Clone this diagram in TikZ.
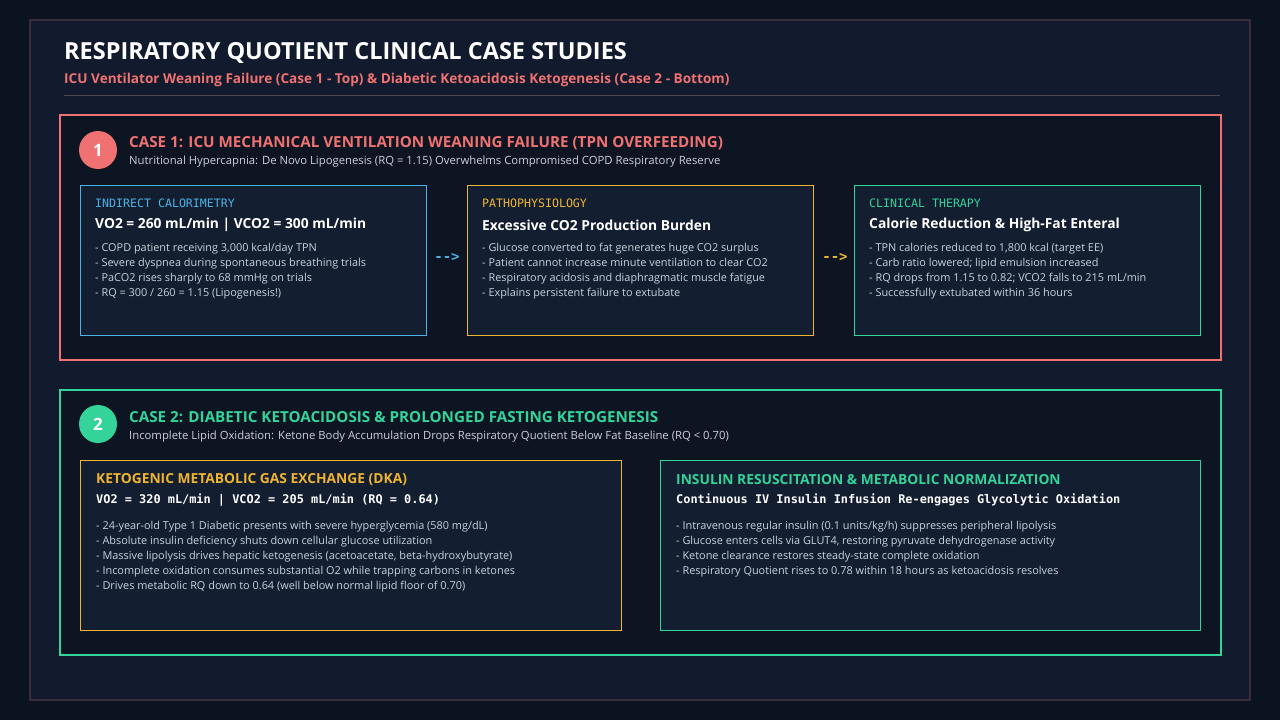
\documentclass[tikz,border=0pt]{standalone}
\usepackage{fontspec}
\setmainfont{Open Sans}
\setmonofont{DejaVu Sans Mono}
\usetikzlibrary{positioning}
\definecolor{pagebg}{HTML}{0C1320}
\definecolor{framebg}{HTML}{111B2D}
\definecolor{casebg}{HTML}{0D1522}
\definecolor{cardbg}{HTML}{131E31}
\definecolor{framebd}{HTML}{3A2C3C}
\definecolor{rcol}{HTML}{F07171}
\definecolor{gcol}{HTML}{34D399}
\definecolor{bcol}{HTML}{4AB3E8}
\definecolor{ycol}{HTML}{F0B530}
\definecolor{txt}{HTML}{C9D1DC}
\tikzset{
  case/.style={draw=#1, line width=1.5pt, fill=casebg},
  card/.style={draw=#1, line width=0.9pt, fill=cardbg},
  badge/.style={circle, fill=#1, minimum size=38pt, inner sep=0pt, text=white, font=\fontsize{17}{17}\selectfont\bfseries},
  lbl/.style={anchor=west, inner sep=0pt},
  head/.style={lbl, text=#1, font=\fontsize{11.6}{12}\ttfamily},
  big/.style={lbl, text=white, font=\fontsize{13.8}{14}\selectfont\bfseries},
  bullets/.style={lbl, anchor=north west, text=txt, align=left, font=\fontsize{10.9}{15}\selectfont},
  flow/.style={inner sep=0pt, text=#1, font=\fontsize{14}{14}\ttfamily\bfseries}
}
\begin{document}
\begin{tikzpicture}[x=1pt,y=-1pt]
\fill[pagebg] (0,0) rectangle (1280,720);
\useasboundingbox (0,0) rectangle (1280,720);
\draw[framebd, line width=1.5pt, fill=framebg] (30,20) rectangle (1250,700);

% title block
\node[lbl, text=white, font=\fontsize{23.5}{24}\selectfont\bfseries] (title) at (64,53) {RESPIRATORY QUOTIENT CLINICAL CASE STUDIES};
\node[lbl, text=rcol, font=\fontsize{13.6}{14}\selectfont\bfseries] (subtitle) at (64,80) {ICU Ventilator Weaning Failure (Case 1 - Top) \& Diabetic Ketoacidosis Ketogenesis (Case 2 - Bottom)};
\draw[framebd!70!gray, line width=0.6pt] (64,95) -- (1220,95);

% case 1
\draw[case=rcol] (60,115) rectangle (1221,360);
\node[badge=rcol] (b1) at (98,150) {1};
\node[lbl, text=rcol, font=\fontsize{15.2}{15}\selectfont\bfseries] (c1t) at (129,143) {CASE 1: ICU MECHANICAL VENTILATION WEANING FAILURE (TPN OVERFEEDING)};
\node[lbl, text=txt, font=\fontsize{11.3}{11}\selectfont] (c1s) at (129,162) {Nutritional Hypercapnia: De Novo Lipogenesis (RQ = 1.15) Overwhelms Compromised COPD Respiratory Reserve};

\draw[card=bcol] (80,185) rectangle (426,335);
\node[head=bcol] (h1) at (95,203) {INDIRECT CALORIMETRY};
\node[big] (v1) at (95,225) {VO2 = 260 mL/min | VCO2 = 300 mL/min};
\node[bullets] (l1) at (95,243) {- COPD patient receiving 3,000 kcal/day TPN\\- Severe dyspnea during spontaneous breathing trials\\- PaCO2 rises sharply to 68 mmHg on trials\\- RQ = 300 / 260 = 1.15 (Lipogenesis!)};

\draw[card=ycol] (467,185) rectangle (813,335);
\node[head=ycol] (h2) at (482,203) {PATHOPHYSIOLOGY};
\node[big] (v2) at (482,225) {Excessive CO2 Production Burden};
\node[bullets] (l2) at (482,243) {- Glucose converted to fat generates huge CO2 surplus\\- Patient cannot increase minute ventilation to clear CO2\\- Respiratory acidosis and diaphragmatic muscle fatigue\\- Explains persistent failure to extubate};

\draw[card=gcol] (854,185) rectangle (1200,335);
\node[head=gcol] (h3) at (869,203) {CLINICAL THERAPY};
\node[big] (v3) at (869,225) {Calorie Reduction \& High-Fat Enteral};
\node[bullets] (l3) at (869,243) {- TPN calories reduced to 1,800 kcal (target EE)\\- Carb ratio lowered; lipid emulsion increased\\- RQ drops from 1.15 to 0.82; VCO2 falls to 215 mL/min\\- Successfully extubated within 36 hours};

\node[flow=bcol] (a1) at (447,257) {-->};
\node[flow=ycol] (a2) at (835,257) {-->};

% case 2
\draw[case=gcol] (60,390) rectangle (1221,655);
\node[badge=gcol] (b2) at (98,424) {2};
\node[lbl, text=gcol, font=\fontsize{15.2}{15}\selectfont\bfseries] (c2t) at (129,417) {CASE 2: DIABETIC KETOACIDOSIS \& PROLONGED FASTING KETOGENESIS};
\node[lbl, text=txt, font=\fontsize{11.3}{11}\selectfont] (c2s) at (129,437) {Incomplete Lipid Oxidation: Ketone Body Accumulation Drops Respiratory Quotient Below Fat Baseline (RQ < 0.70)};

\draw[card=ycol] (80,460) rectangle (621,630);
\node[lbl, text=ycol, font=\fontsize{13.8}{14}\selectfont\bfseries] (h4) at (96,480) {KETOGENIC METABOLIC GAS EXCHANGE (DKA)};
\node[lbl, text=white, font=\fontsize{11.9}{12}\ttfamily\bfseries] (v4) at (96,500) {VO2 = 320 mL/min | VCO2 = 205 mL/min (RQ = 0.64)};
\node[bullets] (l4) at (96,521) {- 24-year-old Type 1 Diabetic presents with severe hyperglycemia (580 mg/dL)\\- Absolute insulin deficiency shuts down cellular glucose utilization\\- Massive lipolysis drives hepatic ketogenesis (acetoacetate, beta-hydroxybutyrate)\\- Incomplete oxidation consumes substantial O2 while trapping carbons in ketones\\- Drives metabolic RQ down to 0.64 (well below normal lipid floor of 0.70)};

\draw[card=gcol] (660,460) rectangle (1200,630);
\node[lbl, text=gcol, font=\fontsize{13.8}{14}\selectfont\bfseries] (h5) at (676,480) {INSULIN RESUSCITATION \& METABOLIC NORMALIZATION};
\node[lbl, text=white, font=\fontsize{11.9}{12}\ttfamily\bfseries] (v5) at (676,500) {Continuous IV Insulin Infusion Re-engages Glycolytic Oxidation};
\node[bullets] (l5) at (676,521) {- Intravenous regular insulin (0.1 units/kg/h) suppresses peripheral lipolysis\\- Glucose enters cells via GLUT4, restoring pyruvate dehydrogenase activity\\- Ketone clearance restores steady-state complete oxidation\\- Respiratory Quotient rises to 0.78 within 18 hours as ketoacidosis resolves};
\end{tikzpicture}
\end{document}
